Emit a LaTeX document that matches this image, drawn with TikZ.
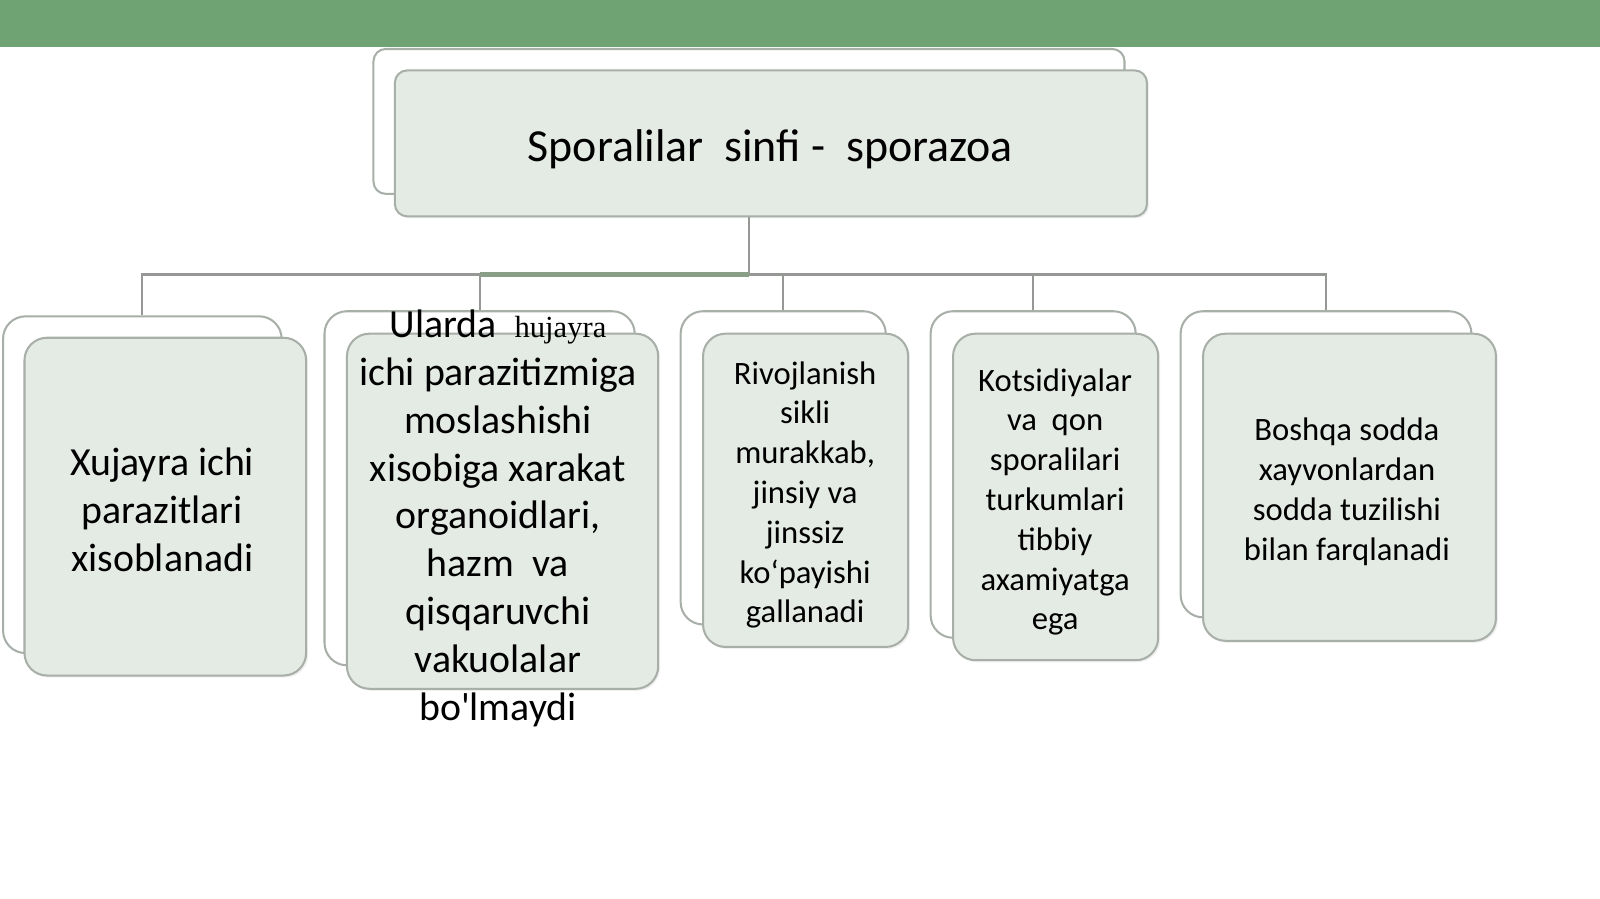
\documentclass[tikz,border=0pt]{standalone}
\usepackage{fontspec}
\setmainfont{Carlito}
\newfontfamily\serifx{Liberation Serif}
\usetikzlibrary{shadows}
\definecolor{greenbar}{RGB}{112,163,116}
\definecolor{boxfill}{RGB}{228,234,228}
\definecolor{boxline}{RGB}{168,175,168}
\definecolor{connline}{RGB}{150,152,150}
\definecolor{thickline}{RGB}{136,158,135}
\begin{document}
\begin{tikzpicture}[x=1pt,y=-1pt,
  backbox/.style={draw=boxline, line width=2pt, fill=white, rounded corners=#1, inner sep=0pt},
  backbox/.default=22pt,
  frontbox/.style={draw=boxline, line width=2pt, fill=boxfill, rounded corners=#1, inner sep=0pt,
    drop shadow={opacity=0.12, shadow xshift=2pt, shadow yshift=-2pt}},
  frontbox/.default=22pt,
  conn/.style={draw=connline, line width=2pt},
  thickconn/.style={draw=thickline, line width=5pt},
  bigtxt/.style={align=center, inner sep=0pt, font=\fontsize{39}{47}\selectfont},
  smalltxt/.style={align=center, inner sep=0pt, font=\fontsize{32}{39}\selectfont},
  titletxt/.style={inner sep=0pt, font=\fontsize{45}{52}\selectfont}]
\useasboundingbox (0,0) rectangle (1568,881);
\fill[greenbar] (0,0) rectangle (1568,46);

% back boxes
\node[backbox=12pt, minimum width=736pt, minimum height=142pt] (tb) at (734,119) {};
\node[backbox, minimum width=273pt, minimum height=330pt] (b1) at (139.5,475) {};
\node[backbox, minimum width=304pt, minimum height=347pt] (b2) at (470,478.5) {};
\node[backbox, minimum width=201pt, minimum height=307pt] (b3) at (767.5,458.5) {};
\node[backbox, minimum width=201pt, minimum height=320pt] (b4) at (1012.5,465) {};
\node[backbox, minimum width=285pt, minimum height=300pt] (b5) at (1299.5,455) {};

% connectors
\coordinate (hub) at (734,269);
\draw[conn] (tb.south) -- (hub);
\draw[conn] (hub) -| (b1.north);
\draw[conn] (hub) -| (b3.north);
\draw[conn] (hub) -| (b4.north);
\draw[conn] (hub) -| (b5.north);
\draw[thickconn] (hub) -- (b2.north |- hub);
\draw[conn] (b2.north |- hub) -- (b2.north);

% front boxes
\node[frontbox=12pt, minimum width=737pt, minimum height=143pt] (tf) at (755.5,140.5) {};
\node[frontbox, minimum width=276pt, minimum height=331pt] (f1) at (162,496.5) {};
\node[frontbox, minimum width=305pt, minimum height=348pt] (f2) at (492.5,501) {};
\node[frontbox, minimum width=201pt, minimum height=307pt] (f3) at (789.5,480.5) {};
\node[frontbox, minimum width=201pt, minimum height=320pt] (f4) at (1034.5,487) {};
\node[frontbox, minimum width=287pt, minimum height=301pt] (f5) at (1322.5,477.5) {};

% texts
\node[titletxt] (t0) at (755,146) {Sporalilar\ \ sinfi -\ \ sporazoa};
\node[bigtxt] (t1) at (159,500) {Xujayra ichi\\parazitlari\\ xisoblanadi};
\node[bigtxt] (t2) at (488,508) {Ularda\ \ {\serifx\fontsize{30}{47}\selectfont hujayra}\\ichi parazitizmiga\\moslashishi\\xisobiga xarakat\\ organoidlari,\\ hazm\ \ va\\qisqaruvchi\\ vakuolalar\\ bo{\addfontfeatures{Ligatures=TeXOff}'}lmaydi};
\node[smalltxt] (t3) at (789,485) {Rivojlanish\\sikli\\murakkab,\\ jinsiy va\\jinssiz\\ko‘payishi\\gallanadi};
\node[smalltxt] (t4) at (1034,492) {Kotsidiyalar\\ va\ \ qon\\sporalilari\\turkumlari\\tibbiy\\axamiyatga\\ega};
\node[smalltxt] (t5) at (1320,482) {Boshqa sodda\\xayvonlardan\\sodda tuzilishi\\bilan farqlanadi};
\end{tikzpicture}
\end{document}
